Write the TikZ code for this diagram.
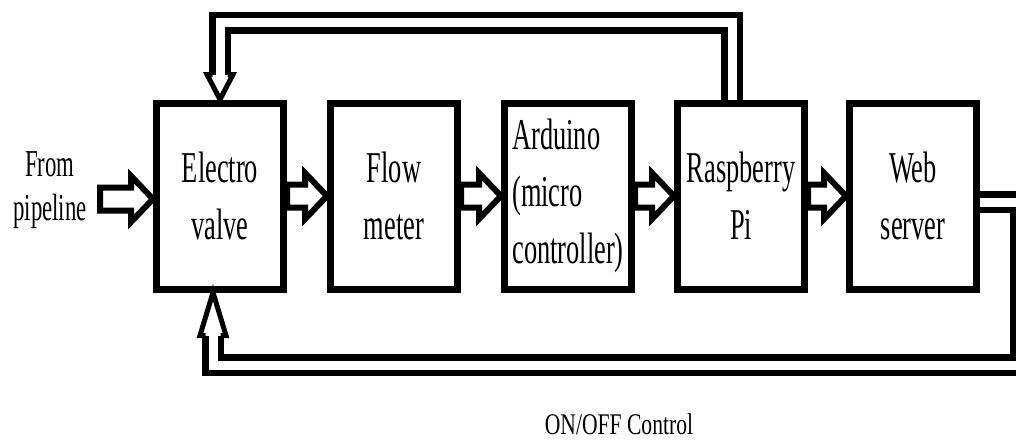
\documentclass[tikz,border=0pt]{standalone}
\usepackage{fontspec}
\setmainfont{Liberation Serif}[FakeStretch=0.6]
\newfontfamily\capfont{Liberation Serif}[FakeStretch=0.72]
\usetikzlibrary{calc}

\begin{document}
\begin{tikzpicture}[
    x=1pt, y=-1pt,
    box/.style={draw, line width=7pt, minimum width=127pt, minimum height=186pt,
        inner sep=0pt, align=center, font=\fontsize{44}{57}\selectfont},
    side/.style={align=center, font=\fontsize{38}{44}\selectfont},
    caption/.style={font=\capfont\fontsize{30}{36}\selectfont},
    flow/.style={line width=6pt, to path={let \p1=(\tikztostart), \p2=(\tikztotarget) in
        (\x1,\y1+11.5pt) -- (\x2-22pt,\y1+11.5pt) -- (\x2-22pt,\y1+23pt) -- (\x2,\y1)
        -- (\x2-22pt,\y1-23pt) -- (\x2-22pt,\y1-11.5pt) -- (\x1,\y1-11.5pt) -- cycle}},
    pipe/.style={line width=6.5pt, double, double distance=9pt},
    opentip/.style={line width=5pt, to path={
        ($(\tikztostart)!7.5pt!90:(\tikztotarget)$) -- ($(\tikztostart)!13pt!90:(\tikztotarget)$)
        -- (\tikztotarget) -- ($(\tikztostart)!13pt!-90:(\tikztotarget)$)
        -- ($(\tikztostart)!7.5pt!-90:(\tikztotarget)$)}}
]
\path[use as bounding box, fill=white] (0,0) rectangle (1016,444);

% blocks
\node[box] (valve) at (220,196) {Electro\\valve};
\node[box] (meter) at (394,196) {Flow\\meter};
\node[box, align=left] (arduino) at (568,196) {Arduino\\(micro\\controller)};
\node[box] (rpi) at (741,196) {Raspberry\\Pi};
\node[box] (server) at (913,196) {Web\\server};

\node[side] (src) at (50,190) {From\\pipeline};
\node[caption] (ctrl) at (619,424) {ON/OFF Control};

\coordinate (inlet) at (100,199);
\coordinate (topy) at (0,23);
\coordinate (boty) at (0,365);
\coordinate (rightx) at (1021,0);

% forward chain
\draw[flow] (inlet) to (valve.west |- inlet);
\draw[flow] (valve.east) to (meter.west);
\draw[flow] (meter.east) to (arduino.west);
\draw[flow] (arduino.east) to (rpi.west);
\draw[flow] (rpi.east) to (server.west);

% feedback to the valve
\draw[pipe] ([xshift=-9pt]rpi.north) |- (valve.north |- topy) -- ([yshift=25pt]valve.north);
\draw[opentip] ([yshift=25pt]valve.north) to (valve.north);
\draw[pipe] ([yshift=-6pt]server.east) -| (rightx |- boty) -| ([xshift=-7pt,yshift=-43pt]valve.south);
\draw[opentip] ([xshift=-7pt,yshift=-43pt]valve.south) to ([xshift=-7pt]valve.south);
\end{tikzpicture}
\end{document}
